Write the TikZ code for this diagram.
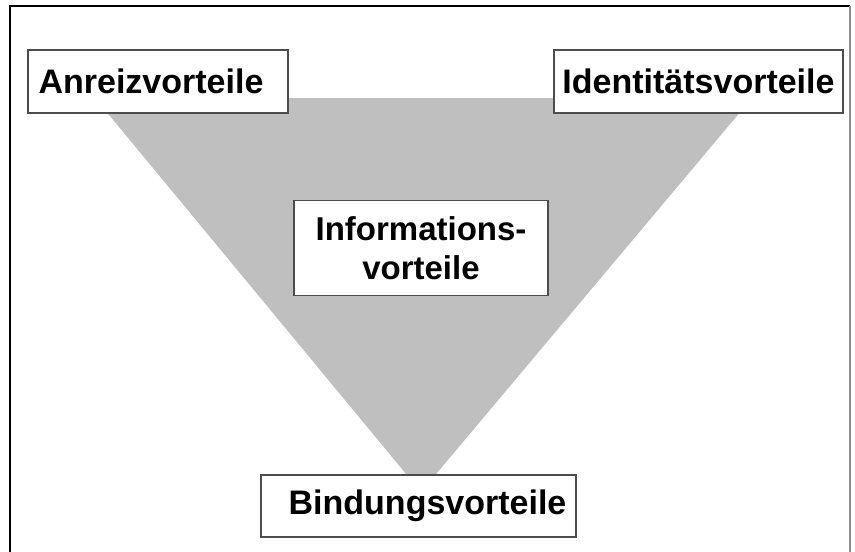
\documentclass[tikz,border=0pt]{standalone}
\usepackage{fontspec}
\setmainfont{Liberation Sans}
\usepackage{tikz}

\tikzset{
    vorteil/.style={draw=black!70, line width=1.2pt, fill=white, inner sep=0pt,
        font=\fontsize{34}{39}\selectfont\bfseries, align=center}
}

\begin{document}
\begin{tikzpicture}[x=1pt, y=-1pt]
    \useasboundingbox (0,0) rectangle (855,552);
    % frame
    \draw[line width=2pt, black] (10,552) -- (10,6) -- (850,6);
    \draw[line width=2pt, black!45] (850,6) -- (850,552);
    % triangle
    \coordinate (TL) at (95,98);
    \coordinate (TR) at (752,98);
    \coordinate (T) at (421,492);
    \fill[black!25] (TL) -- (TR) -- (T) -- cycle;
    % boxes
    \node[vorteil, minimum width=260pt, minimum height=63pt] (anreiz) at (158,81.5) {Anreizvorteile\hspace*{14pt}};
    \node[vorteil, minimum width=289pt, minimum height=63pt] (identitaet) at (698.5,81.5) {Identitätsvorteile};
    \node[vorteil, minimum width=254pt, minimum height=95pt, font=\fontsize{33}{39}\selectfont\bfseries] (information) at (421,248) {Informations-\\vorteile};
    \node[vorteil, minimum width=315pt, minimum height=62pt] (bindung) at (418.5,506) {\hspace*{18pt}Bindungsvorteile};
\end{tikzpicture}
\end{document}
